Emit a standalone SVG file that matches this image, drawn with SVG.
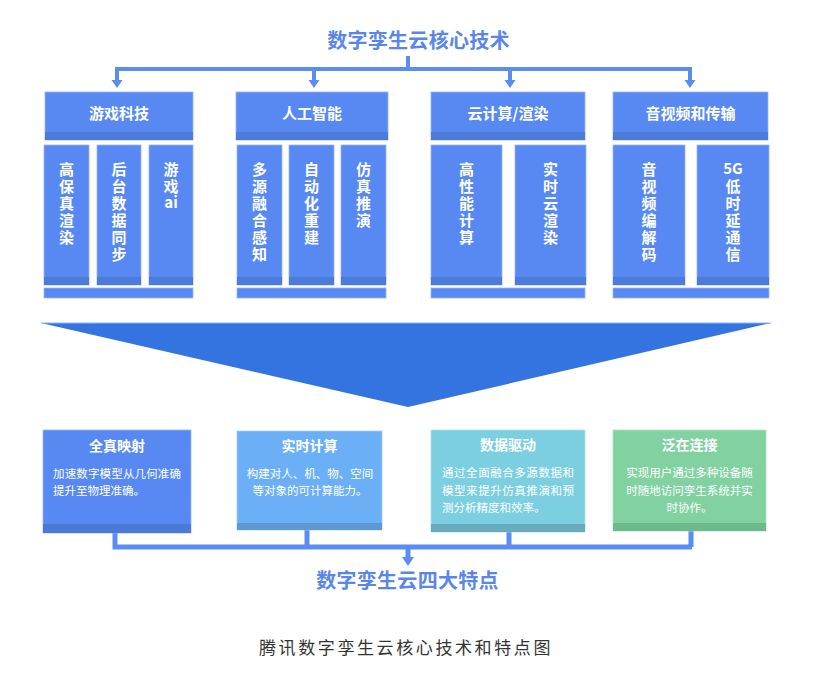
<svg xmlns="http://www.w3.org/2000/svg" width="813" height="676" viewBox="0 0 813 676">
<defs>
<style>
.title{font-family:"Noto Sans CJK SC","Noto Sans",sans-serif;font-weight:bold;font-size:20px;letter-spacing:0.3px;fill:#5a86ea;text-anchor:middle}
.hd{font-family:"Noto Sans CJK SC","Noto Sans",sans-serif;font-weight:bold;font-size:15px;fill:#fff;text-anchor:middle}
.vt{font-family:"Noto Sans CJK SC","Noto Sans",sans-serif;font-weight:bold;font-size:15px;fill:#fff;writing-mode:vertical-rl;text-orientation:upright;letter-spacing:2px}
.ht{font-family:"Noto Sans CJK SC","Noto Sans",sans-serif;font-weight:bold;font-size:15px;fill:#fff;text-anchor:middle}
.bt{font-family:"Noto Sans CJK SC","Noto Sans",sans-serif;font-weight:bold;font-size:14px;fill:#fff;text-anchor:middle}
.bd{font-family:"Noto Sans CJK SC","Noto Sans",sans-serif;font-size:11.5px;fill:#fff}
.cap{font-family:"Noto Sans CJK SC","Noto Sans",sans-serif;font-size:17px;letter-spacing:2.6px;fill:#333;text-anchor:middle}
.blue{fill:#5889f2;stroke:#9ab6f5;stroke-width:0.8}
.dark{fill:#4c7bd9}
.ln{stroke:#5b8cf0;stroke-width:4;fill:none}
.ah{fill:#5b8cf0}
</style>
</defs>
<rect width="813" height="676" fill="#fff"/>

<text class="title" x="418.5" y="47.5">数字孪生云核心技术</text>

<g id="connectors">
<path class="ln" d="M408 56 V69 M115 69 H692 M117 67 V82 M314 67 V82 M510 67 V82 M690 67 V82"/>
<path class="ah" d="M111.5 80 H122.5 L117 88 Z M308.5 80 H319.5 L314 88 Z M504.5 80 H515.5 L510 88 Z M684.5 80 H695.5 L690 88 Z"/>
<path d="M115 533 V547 H692 M307 530 V547 M509 532 V547 M691 531 V547 M408 547 V559" stroke="#5b8cf0" stroke-width="5" fill="none"/>
<path class="ah" d="M402 557 H414 L408 566 Z"/>
</g>

<g id="game">
<rect class="blue" x="45" y="92" width="148" height="48"/>
<rect class="dark" x="45" y="132" width="148" height="8"/>
<text class="hd" x="119" y="119">游戏科技</text>
<rect class="blue" x="44" y="145" width="45" height="140"/>
<rect class="dark" x="44" y="277" width="45" height="8"/>
<text class="vt" x="66.5" y="161.5">高保真渲染</text>
<rect class="blue" x="97" y="145" width="44" height="140"/>
<rect class="dark" x="97" y="277" width="44" height="8"/>
<text class="vt" x="119" y="161.5">后台数据同步</text>
<rect class="blue" x="149" y="145" width="44" height="140"/>
<rect class="dark" x="149" y="277" width="44" height="8"/>
<text class="vt" x="171" y="161.5">游戏</text>
<text class="ht" x="171" y="208">ai</text>
<rect class="blue" x="44" y="288" width="149" height="10"/>
</g>

<g id="ai">
<rect class="blue" x="236" y="92" width="152" height="48"/>
<rect class="dark" x="236" y="132" width="152" height="8"/>
<text class="hd" x="312" y="119">人工智能</text>
<rect class="blue" x="237" y="145" width="45" height="140"/>
<rect class="dark" x="237" y="277" width="45" height="8"/>
<text class="vt" x="259.5" y="161.5">多源融合感知</text>
<rect class="blue" x="289" y="145" width="45" height="140"/>
<rect class="dark" x="289" y="277" width="45" height="8"/>
<text class="vt" x="311.5" y="161.5">自动化重建</text>
<rect class="blue" x="341" y="145" width="45" height="140"/>
<rect class="dark" x="341" y="277" width="45" height="8"/>
<text class="vt" x="363.5" y="161.5">仿真推演</text>
<rect class="blue" x="237" y="288" width="149" height="10"/>
</g>

<g id="cloud">
<rect class="blue" x="431" y="92" width="154" height="48"/>
<rect class="dark" x="431" y="132" width="154" height="8"/>
<text class="hd" x="508" y="119">云计算/渲染</text>
<rect class="blue" x="431" y="145" width="71" height="140"/>
<rect class="dark" x="431" y="277" width="71" height="8"/>
<text class="vt" x="466.5" y="161.5">高性能计算</text>
<rect class="blue" x="515" y="145" width="71" height="140"/>
<rect class="dark" x="515" y="277" width="71" height="8"/>
<text class="vt" x="550.5" y="161.5">实时云渲染</text>
<rect class="blue" x="431" y="288" width="154" height="10"/>
</g>

<g id="av">
<rect class="blue" x="613" y="92" width="155" height="48"/>
<rect class="dark" x="613" y="132" width="155" height="8"/>
<text class="hd" x="690.5" y="119">音视频和传输</text>
<rect class="blue" x="613" y="145" width="72" height="140"/>
<rect class="dark" x="613" y="277" width="72" height="8"/>
<text class="vt" x="649" y="161.5">音视频编解码</text>
<rect class="blue" x="697" y="145" width="72" height="140"/>
<rect class="dark" x="697" y="277" width="72" height="8"/>
<text class="ht" x="733" y="174">5G</text>
<text class="vt" x="733" y="178.5">低时延通信</text>
<rect class="blue" x="613" y="288" width="156" height="10"/>
</g>

<g id="funnel">
<path d="M41 323 H771 L408 407 Z" fill="#3474e0"/>
<path d="M41 323 H771" stroke="#8fb3f0" stroke-width="1"/>
</g>

<g id="f1">
<rect x="43" y="430" width="148" height="103" fill="#5889f2" stroke="#9ab6f5" stroke-width="0.8"/>
<rect x="43" y="524" width="148" height="9" fill="#4b79d6"/>
<text class="bt" x="117" y="451">全真映射</text>
<text class="bd" x="53" y="478" textLength="128" lengthAdjust="spacing">加速数字模型从几何准确</text>
<text class="bd" x="53" y="495">提升至物理准确。</text>
</g>

<g id="f2">
<rect x="237" y="431" width="145" height="99" fill="#6bb0f6" stroke="#a6cdf8" stroke-width="0.8"/>
<rect x="237" y="523" width="145" height="7" fill="#5d98d2"/>
<text class="bt" x="309.5" y="451">实时计算</text>
<text class="bd" x="310" y="478" text-anchor="middle">构建对人、机、物、空间</text>
<text class="bd" x="310" y="495" text-anchor="middle">等对象的可计算能力。</text>
</g>

<g id="f3">
<rect x="431" y="430" width="154" height="102" fill="#7bcfe0" stroke="#a9e1ec" stroke-width="0.8"/>
<rect x="431" y="524" width="154" height="8" fill="#67abbd"/>
<text class="bt" x="508" y="450">数据驱动</text>
<text class="bd" x="442" y="477" textLength="132" lengthAdjust="spacing">通过全面融合多源数据和</text>
<text class="bd" x="442" y="495" textLength="132" lengthAdjust="spacing">模型来提升仿真推演和预</text>
<text class="bd" x="442" y="512">测分析精度和效率。</text>
</g>

<g id="f4">
<rect x="613" y="430" width="153" height="101" fill="#81d1a1" stroke="#aee2c2" stroke-width="0.8"/>
<rect x="613" y="523" width="153" height="8" fill="#6cb98b"/>
<text class="bt" x="689.5" y="450">泛在连接</text>
<text class="bd" x="689.5" y="477" text-anchor="middle">实现用户通过多种设备随</text>
<text class="bd" x="689.5" y="495" text-anchor="middle">时随地访问孪生系统并实</text>
<text class="bd" x="689.5" y="512" text-anchor="middle">时协作。</text>
</g>

<text class="title" x="407.5" y="588">数字孪生云四大特点</text>
<text class="cap" x="406" y="654">腾讯数字孪生云核心技术和特点图</text>
</svg>
